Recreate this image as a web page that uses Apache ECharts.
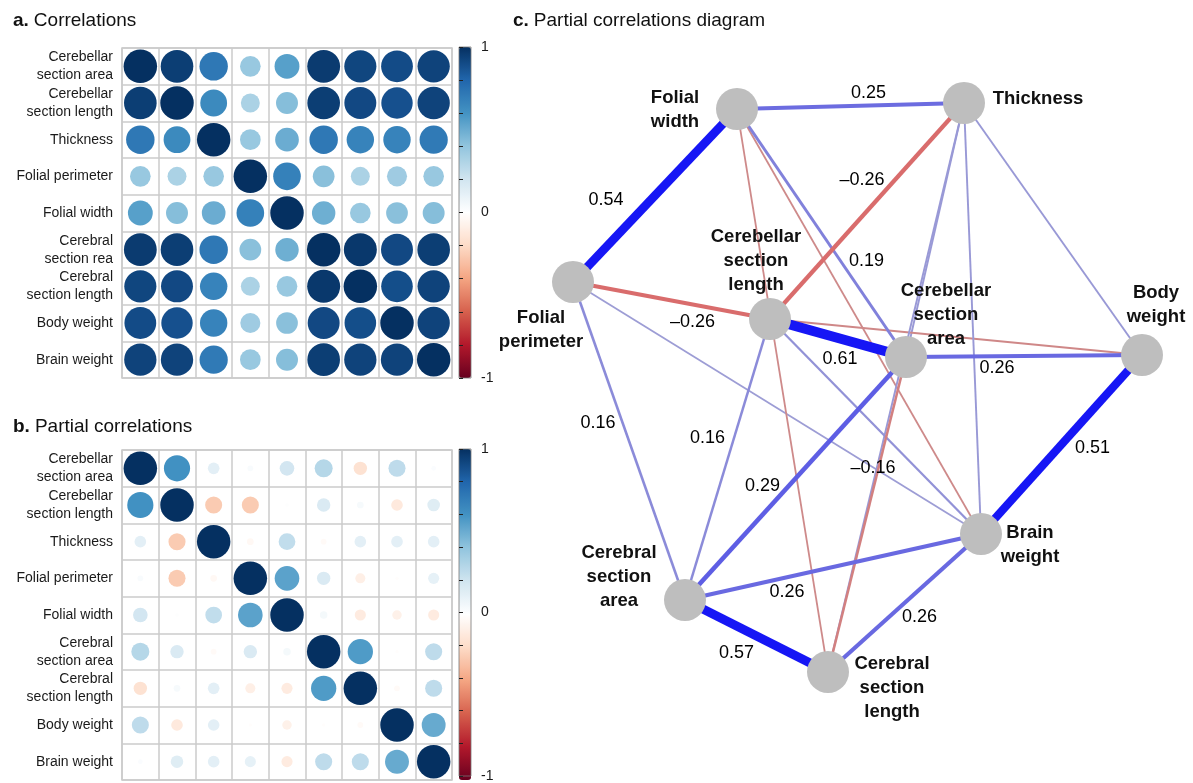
<!DOCTYPE html>
<html>
<head>
<meta charset="utf-8">
<script src="https://cdn.jsdelivr.net/npm/echarts@6/dist/echarts.min.js"></script>
<style>
  html, body { margin: 0; padding: 0; background: #fff; }
  #chart { width: 1193px; height: 783px; }
</style>
</head>
<body>
<div id="chart"></div>
<script>
// Variables, in matrix order
const varKeys = ['CbSA', 'CbSL', 'Th', 'FP', 'FW', 'CSA', 'CSL', 'BodyW', 'BrainW'];
const rowLabelsA = ['Cerebellar\nsection area', 'Cerebellar\nsection length', 'Thickness', 'Folial perimeter',
  'Folial width', 'Cerebral\nsection rea', 'Cerebral\nsection length', 'Body weight', 'Brain weight'];
const rowLabelsB = ['Cerebellar\nsection area', 'Cerebellar\nsection length', 'Thickness', 'Folial perimeter',
  'Folial width', 'Cerebral\nsection area', 'Cerebral\nsection length', 'Body weight', 'Brain weight'];
const nodeLabels = ['Cerebellar\nsection\narea', 'Cerebellar\nsection\nlength', 'Thickness', 'Folial\nperimeter',
  'Folial\nwidth', 'Cerebral\nsection\narea', 'Cerebral\nsection\nlength', 'Body\nweight', 'Brain\nweight'];

// Correlations
const corrValues = [
  [1.00, 0.95, 0.72, 0.38, 0.55, 0.96, 0.92, 0.90, 0.93],
  [0.95, 1.00, 0.64, 0.32, 0.43, 0.95, 0.91, 0.88, 0.93],
  [0.72, 0.64, 1.00, 0.38, 0.50, 0.72, 0.67, 0.67, 0.71],
  [0.38, 0.32, 0.38, 1.00, 0.68, 0.42, 0.32, 0.36, 0.38],
  [0.55, 0.43, 0.50, 0.68, 1.00, 0.49, 0.38, 0.42, 0.43],
  [0.96, 0.95, 0.72, 0.42, 0.49, 1.00, 0.97, 0.91, 0.95],
  [0.92, 0.91, 0.67, 0.32, 0.38, 0.97, 1.00, 0.89, 0.93],
  [0.90, 0.88, 0.67, 0.36, 0.42, 0.91, 0.89, 1.00, 0.93],
  [0.93, 0.93, 0.71, 0.38, 0.43, 0.95, 0.93, 0.93, 1.00]
];

// Partial correlations
const partialValues = [
  [ 1.00,  0.61,  0.12,  0.03,  0.19,  0.29, -0.16,  0.26,  0.02],
  [ 0.61,  1.00, -0.26, -0.26,  0.01,  0.16,  0.04, -0.12,  0.14],
  [ 0.12, -0.26,  1.00, -0.04,  0.25, -0.03,  0.12,  0.12,  0.12],
  [ 0.03, -0.26, -0.04,  1.00,  0.54,  0.16, -0.09, -0.01,  0.11],
  [ 0.19,  0.01,  0.25,  0.54,  1.00,  0.05, -0.11, -0.08, -0.11],
  [ 0.29,  0.16, -0.03,  0.16,  0.05,  1.00,  0.57, -0.01,  0.26],
  [-0.16,  0.04,  0.12, -0.09, -0.11,  0.57,  1.00, -0.03,  0.26],
  [ 0.26, -0.12,  0.12, -0.01, -0.08, -0.01, -0.03,  1.00,  0.51],
  [ 0.02,  0.14,  0.12,  0.11, -0.11,  0.26,  0.26,  0.51,  1.00]
];

// Colour scale, from -1 to 1
const rdBu = ['#67001F', '#B2182B', '#D6604D', '#F4A582', '#FDDBC7', '#FFFFFF',
  '#D1E5F0', '#92C5DE', '#4393C3', '#2166AC', '#053061'];

// Network layout (panel c plotting units) and label placement
const nodeLayout = [[366, 297], [230, 259], [424, 43], [33, 222], [197, 49], [145, 540], [288, 612], [602, 295], [441, 474]];
const nodeLabelShift = [[40, -42], [-14, -58], [74, -4], [-32, 48], [-62, 1], [-66, -23], [64, 16], [14, -50], [49, 11]];
const edgeLabelShift = [
  [2, 4, 18, -13], [3, 4, -49, 5], [1, 3, 21, 22], [1, 2, -5, -31], [0, 4, 45, 28],
  [0, 1, 2, 21], [0, 7, -27, 12], [7, 8, 31, 4], [3, 5, -31, -18], [1, 5, -20, -21],
  [0, 5, -33, 8], [0, 6, 6, -46], [5, 8, -46, 25], [6, 8, 15, 14], [5, 6, -20, 17]
];
const edgeMin = 0.1;    // smallest |r| drawn as an edge
const labelMin = 0.15;  // smallest |r| that gets a printed value

const FONT = '"Liberation Sans", Arial, Helvetica, sans-serif';
const CELL_D = 33.5;

function matrixData(m) {
  const out = [];
  for (let i = 0; i < m.length; i++)
    for (let j = 0; j < m[i].length; j++) out.push([j, i, m[i][j]]);
  return out;
}

function mix(a, b, t) {
  const c = a.map((v, k) => Math.round(v + (b[k] - v) * t));
  return 'rgb(' + c.join(',') + ')';
}
function edgeColor(r) {
  const t = Math.max(0, Math.min(1, (Math.abs(r) - 0.1) / 0.4));
  return r > 0 ? mix([160, 160, 212], [22, 22, 245], t) : mix([205, 140, 140], [235, 60, 60], t);
}
function fmt(r) {
  return (r < 0 ? '\u2013' : '') + Math.abs(r).toFixed(2);
}

// Edges of the partial-correlation network, thin ones first
const edges = [];
for (let i = 0; i < varKeys.length; i++)
  for (let j = i + 1; j < varKeys.length; j++) {
    const r = partialValues[i][j];
    if (Math.abs(r) >= edgeMin) edges.push({ i, j, r });
  }
edges.sort((a, b) => Math.abs(a.r) - Math.abs(b.r));

const edgeLabels = [];
edges.forEach(e => {
  if (Math.abs(e.r) < labelMin) return;
  const s = edgeLabelShift.find(d => (d[0] === e.i && d[1] === e.j) || (d[0] === e.j && d[1] === e.i)) || [0, 0, 0, 0];
  const a = nodeLayout[e.i], b = nodeLayout[e.j];
  edgeLabels.push({
    value: [(a[0] + b[0]) / 2, (a[1] + b[1]) / 2],
    label: { formatter: fmt(e.r), offset: [s[2], s[3]] }
  });
});

function matrixAxes(gridIndex, labels) {
  return {
    x: {
      type: 'category', gridIndex, data: varKeys, boundaryGap: true,
      axisLine: { show: false }, axisTick: { show: false }, axisLabel: { show: false },
      splitLine: { show: true, interval: 0, lineStyle: { color: '#CBCBCB', width: 1.5 } }
    },
    y: {
      type: 'category', gridIndex, data: labels, inverse: true, boundaryGap: true,
      axisLine: { show: false }, axisTick: { show: false },
      axisLabel: { interval: 0, fontFamily: FONT, fontSize: 14, lineHeight: 18, color: '#1a1a1a', margin: 9, align: 'right' },
      splitLine: { show: true, interval: 0, lineStyle: { color: '#CBCBCB', width: 1.5 } }
    }
  };
}
function barAxes(gridIndex) {
  return {
    x: { type: 'value', gridIndex, min: 0, max: 1, show: false },
    y: {
      type: 'value', gridIndex, min: -1, max: 1, interval: 0.2, position: 'right', z: 10,
      axisLine: { show: false }, splitLine: { show: false },
      axisTick: { show: true, inside: false, length: 4, lineStyle: { color: '#222', width: 1 } },
      axisLabel: {
        fontFamily: FONT, fontSize: 14, color: '#1a1a1a', margin: 10,
        formatter: v => Math.abs(v) < 1e-9 ? '0' : (Math.abs(Math.abs(v) - 1) < 1e-9 ? String(Math.round(v)) : '')
      }
    }
  };
}

const mA = matrixAxes(0, rowLabelsA), bA = barAxes(1), mB = matrixAxes(2, rowLabelsB), bB = barAxes(3);

const titleRich = {
  b: { fontFamily: FONT, fontSize: 19, fontWeight: 'bold', color: '#111' },
  n: { fontFamily: FONT, fontSize: 19, fontWeight: 'normal', color: '#111' }
};

const option = {
  backgroundColor: '#fff',
  animation: false,
  title: [
    { text: '{b|a.} {n|Correlations}', left: 8, top: 6, textStyle: { fontWeight: 'normal', rich: titleRich } },
    { text: '{b|b.} {n|Partial correlations}', left: 8, top: 412, textStyle: { fontWeight: 'normal', rich: titleRich } },
    { text: '{b|c.} {n|Partial correlations diagram}', left: 508, top: 6, textStyle: { fontWeight: 'normal', rich: titleRich } }
  ],
  grid: [
    { left: 122, top: 48, width: 330, height: 330, show: true, borderColor: '#CBCBCB', borderWidth: 1.5, backgroundColor: 'transparent' },
    { left: 459, top: 47, width: 12, height: 331, show: true, borderColor: '#777', borderWidth: 0.8, backgroundColor: 'transparent', z: 6 },
    { left: 122, top: 450, width: 330, height: 330, show: true, borderColor: '#CBCBCB', borderWidth: 1.5, backgroundColor: 'transparent' },
    { left: 459, top: 449, width: 12, height: 331, show: true, borderColor: '#777', borderWidth: 0.8, backgroundColor: 'transparent', z: 6 },
    { left: 540, top: 60, width: 640, height: 660, show: false }
  ],
  xAxis: [mA.x, bA.x, mB.x, bB.x, { type: 'value', gridIndex: 4, min: 0, max: 640, show: false }],
  yAxis: [mA.y, bA.y, mB.y, bB.y, { type: 'value', gridIndex: 4, min: 0, max: 660, inverse: true, show: false }],
  visualMap: [
    { type: 'continuous', seriesIndex: 0, dimension: 2, min: -1, max: 1, calculable: false, orient: 'vertical',
      left: 459, top: 47, itemWidth: 12, itemHeight: 331, padding: 0, inRange: { color: rdBu } },
    { type: 'continuous', seriesIndex: 1, dimension: 2, min: -1, max: 1, calculable: false, orient: 'vertical',
      left: 459, top: 449, itemWidth: 12, itemHeight: 331, padding: 0, inRange: { color: rdBu } }
  ],
  series: [
    { type: 'scatter', xAxisIndex: 0, yAxisIndex: 0, data: matrixData(corrValues), silent: true, z: 3,
      itemStyle: { opacity: 1 },
      symbolSize: v => CELL_D * Math.sqrt(Math.abs(v[2])) },
    { type: 'scatter', xAxisIndex: 2, yAxisIndex: 2, data: matrixData(partialValues), silent: true, z: 3,
      itemStyle: { opacity: 1 },
      symbolSize: v => CELL_D * Math.sqrt(Math.abs(v[2])) },
    {
      type: 'graph', coordinateSystem: 'cartesian2d', xAxisIndex: 4, yAxisIndex: 4, silent: true, z: 2,
      symbol: 'circle', symbolSize: 42, itemStyle: { color: '#BEBEBE', opacity: 1 },
      data: nodeLayout.map((p, k) => ({
        name: varKeys[k], value: p,
        label: {
          show: true, position: 'inside', offset: nodeLabelShift[k], formatter: nodeLabels[k],
          fontFamily: FONT, fontSize: 18.5, fontWeight: 'bold', lineHeight: 24, color: '#111', align: 'center'
        }
      })),
      links: edges.map(e => ({
        source: e.i, target: e.j,
        lineStyle: { width: 16 * Math.abs(e.r), color: edgeColor(e.r), opacity: 1, curveness: 0 }
      })),
      edgeSymbol: ['none', 'none']
    },
    {
      type: 'scatter', xAxisIndex: 4, yAxisIndex: 4, silent: true, z: 5, symbolSize: 0,
      itemStyle: { opacity: 1 },
      data: edgeLabels,
      label: { show: true, position: 'inside', fontFamily: FONT, fontSize: 18, color: '#000', opacity: 1 }
    }
  ]
};

const chart = echarts.init(document.getElementById('chart'), null, { renderer: 'canvas' });
chart.setOption(option);
</script>
</body>
</html>
